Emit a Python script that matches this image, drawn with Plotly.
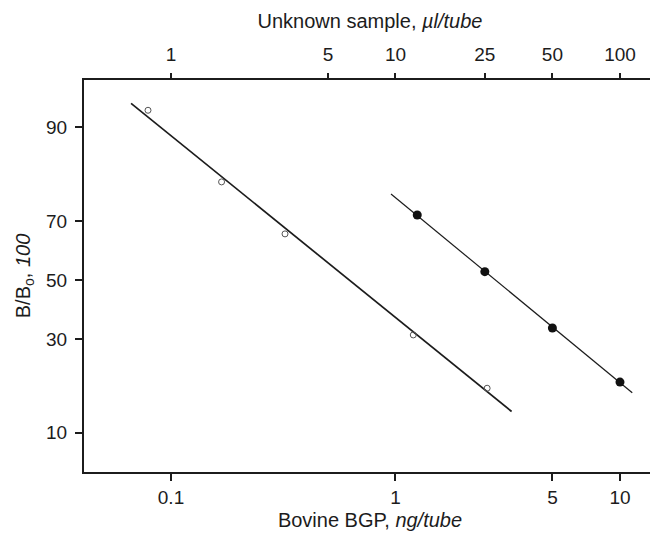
import numpy as np
import plotly.graph_objects as go

# ---- data ----
std_ng = [0.079, 0.168, 0.322, 1.20, 2.56]          # Bovine BGP, ng/tube
std_pct = [92.0, 80.4, 66.0, 31.2, 17.4]            # B/B0 %
std_line_ng = [0.0664, 3.29]
std_line_pct = [92.7, 13.1]

unk_ul = [12.5, 25, 50, 100]                        # Unknown sample, ul/tube
unk_pct = [71.8, 53.0, 33.4, 18.7]
unk_line_ul = [9.55, 113.4]
unk_line_pct = [77.5, 16.5]

bottom_ticks = [0.1, 1, 5, 10]
top_ticks = [1, 5, 10, 25, 50, 100]
y_ticks = [10, 30, 50, 70, 90]


def logit(p):
    p = np.asarray(p, dtype=float) / 100.0
    return np.log(p / (1 - p))


FONT = "Liberation Sans, Arial, Helvetica, sans-serif"
INK = "#1c1c1c"

fig = go.Figure()
fig.add_trace(go.Scatter(x=std_line_ng, y=logit(std_line_pct), mode="lines",
                         line=dict(color=INK, width=1.7), showlegend=False, hoverinfo="skip"))
fig.add_trace(go.Scatter(x=std_ng, y=logit(std_pct), mode="markers",
                         marker=dict(symbol="circle-open", size=6, color="#555",
                                     line=dict(width=1, color="#555")),
                         showlegend=False))
fig.add_trace(go.Scatter(x=unk_line_ul, y=logit(unk_line_pct), mode="lines", xaxis="x2",
                         line=dict(color=INK, width=1.2), showlegend=False, hoverinfo="skip"))
fig.add_trace(go.Scatter(x=unk_ul, y=logit(unk_pct), mode="markers", xaxis="x2",
                         marker=dict(symbol="circle", size=9, color="#111"),
                         showlegend=False))

xr = [-1.3875, 1.1604]
# page body has an 8px default margin, so the figure is 8px smaller
fig.update_layout(
    width=650, height=533,
    margin=dict(l=76, r=2, t=72, b=69),
    plot_bgcolor="white", paper_bgcolor="white",
    font=dict(family=FONT, size=19, color=INK),
    xaxis=dict(type="log", range=xr, tickvals=bottom_ticks,
               ticktext=[str(v) for v in bottom_ticks], automargin=False,
               ticks="outside", ticklen=7, tickwidth=1.5, tickcolor=INK,
               showline=True, linewidth=2, linecolor=INK, showgrid=False, zeroline=False,
               title=dict(text="Bovine BGP, <i>ng/tube</i>", font=dict(size=20), standoff=6)),
    xaxis2=dict(type="log", range=[xr[0] + 1, xr[1] + 1], overlaying="x", side="top",
                tickvals=top_ticks, ticktext=[str(v) for v in top_ticks], automargin=False,
                ticks="outside", ticklen=5, tickwidth=1.5, tickcolor=INK,
                showline=True, linewidth=1.5, linecolor=INK, showgrid=False, zeroline=False,
                ticklabelstandoff=5,
                title=dict(text="Unknown sample, <i>µl/tube</i>", font=dict(size=20), standoff=10)),
    yaxis=dict(range=[-2.763, 2.878], tickvals=list(logit(y_ticks)),
               ticktext=[str(v) for v in y_ticks], automargin=False,
               ticks="outside", ticklen=7, tickwidth=1.5, tickcolor=INK,
               showline=True, mirror=True, linewidth=2, linecolor=INK,
               showgrid=False, zeroline=False, ticklabelstandoff=4,
               title=dict(text="B/B<sub>o</sub>, <i>100</i>", font=dict(size=20), standoff=10)),
)

fig.write_html("out.html")
